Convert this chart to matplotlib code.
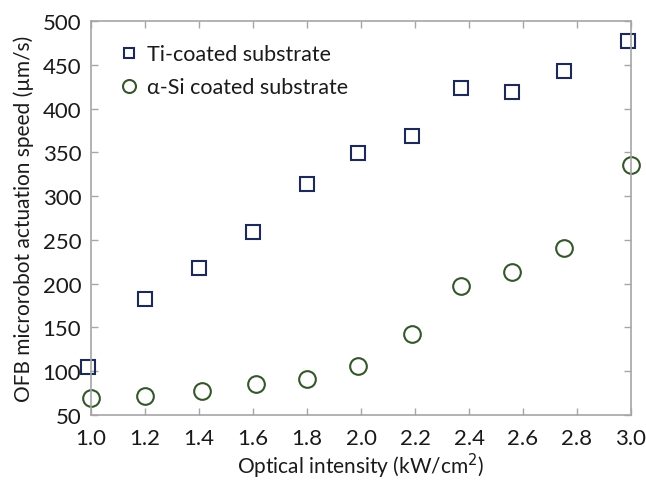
import matplotlib
matplotlib.use("Agg")
import matplotlib.pyplot as plt

plt.rcParams["font.family"] = ["Lato", "DejaVu Sans"]

# data
intensity_ti = [0.99, 1.20, 1.40, 1.60, 1.80, 1.99, 2.19, 2.37, 2.56, 2.75, 2.99]
speed_ti = [105, 182, 218, 259, 314, 349, 369, 423, 419, 443, 477]
intensity_si = [1.00, 1.20, 1.41, 1.61, 1.80, 1.99, 2.19, 2.37, 2.56, 2.75, 3.00]
speed_si = [69, 72, 77, 85, 91, 106, 142, 197, 213, 241, 335]

x_ticks = [1.0, 1.2, 1.4, 1.6, 1.8, 2.0, 2.2, 2.4, 2.6, 2.8, 3.0]
y_ticks = [50, 100, 150, 200, 250, 300, 350, 400, 450, 500]

fig = plt.figure(figsize=(6.46, 4.81), dpi=100)
ax = fig.add_axes([0.1409, 0.1351, 0.8359, 0.8192])

ax.plot(intensity_ti, speed_ti, linestyle="none", marker="s", markersize=9.5,
        markerfacecolor="none", markeredgecolor="#1c2a55", markeredgewidth=1.5,
        clip_on=False, label="Ti-coated substrate")
ax.plot(intensity_si, speed_si, linestyle="none", marker="o", markersize=12,
        markerfacecolor="none", markeredgecolor="#34562a", markeredgewidth=1.5,
        clip_on=False, label="\u03b1-Si coated substrate")

ax.set_xlim(1.0, 3.0)
ax.set_ylim(50, 500)
ax.set_xticks(x_ticks)
ax.set_xticklabels([f"{t:.1f}" for t in x_ticks])
ax.set_yticks(y_ticks)

for s in ax.spines.values():
    s.set_color("#a6a6a6")
    s.set_linewidth(1.2)
ax.tick_params(direction="in", length=5, width=1, color="#a6a6a6",
               top=True, right=True, labelsize=16, labelcolor="#1a1a1a")
ax.tick_params(axis="x", pad=9)
ax.tick_params(axis="y", pad=7)

ax.set_xlabel("Optical intensity (kW/cm$^2$)", fontsize=15, color="#1a1a1a")
ax.xaxis.set_label_coords(0.5, -0.128)
ax.xaxis.label.set_va("center")
ax.set_ylabel("OFB microrobot actuation speed (\u00b5m/s)", fontsize=15,
              color="#1a1a1a", labelpad=6)

leg = ax.legend(loc="upper left", bbox_to_anchor=(0.01, 0.99), frameon=False,
                fontsize=15.5, handletextpad=0.25, labelspacing=0.6,
                handlelength=1.2, markerscale=0.78)
for t in leg.get_texts():
    t.set_color("#1a1a1a")

fig.savefig("out.png", dpi=100)
